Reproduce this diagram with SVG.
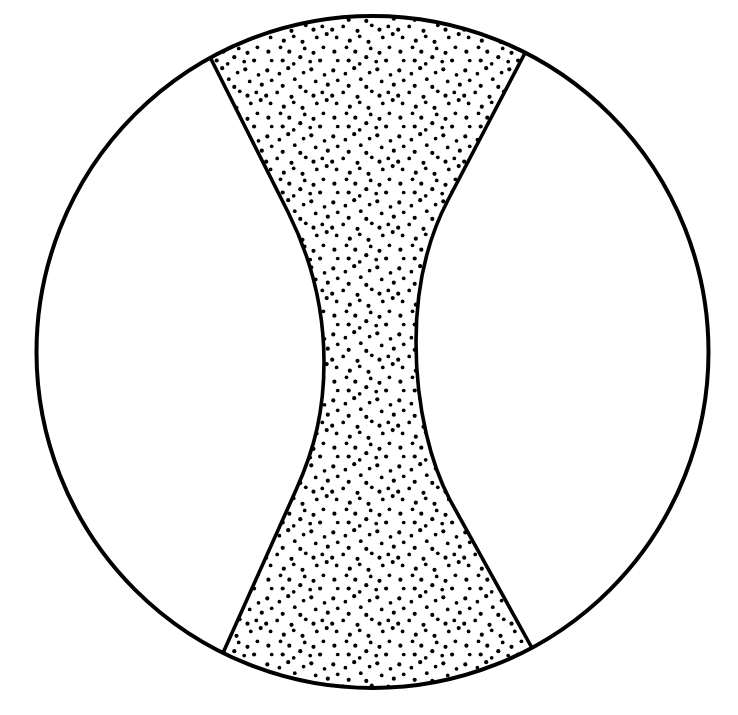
<svg xmlns="http://www.w3.org/2000/svg" width="738" height="715" viewBox="0 0 738 715">
  <defs>
    <pattern id="stipple" x="0" y="0" width="60" height="60" patternUnits="userSpaceOnUse" patternTransform="scale(1.1)">
      <g fill="#000">
        <circle cx="3" cy="4" r="1.9"/><circle cx="14" cy="7" r="1.7"/><circle cx="22" cy="2" r="1.9"/><circle cx="36" cy="6" r="1.7"/><circle cx="43" cy="3" r="1.9"/><circle cx="55" cy="8" r="1.7"/>
        <circle cx="7" cy="13" r="1.7"/><circle cx="17" cy="18" r="1.9"/><circle cx="28" cy="12" r="1.7"/><circle cx="33" cy="19" r="1.9"/><circle cx="47" cy="14" r="1.7"/><circle cx="58" cy="17" r="1.9"/>
        <circle cx="2" cy="27" r="1.9"/><circle cx="12" cy="24" r="1.7"/><circle cx="25" cy="28" r="1.9"/><circle cx="38" cy="23" r="1.7"/><circle cx="45" cy="27" r="1.9"/><circle cx="53" cy="24" r="1.7"/>
        <circle cx="6" cy="34" r="1.7"/><circle cx="18" cy="37" r="1.9"/><circle cx="27" cy="33" r="1.7"/><circle cx="35" cy="38" r="1.9"/><circle cx="48" cy="34" r="1.7"/><circle cx="57" cy="31" r="1.9"/>
        <circle cx="4" cy="47" r="1.9"/><circle cx="15" cy="43" r="1.7"/><circle cx="23" cy="47" r="1.9"/><circle cx="37" cy="44" r="1.7"/><circle cx="45" cy="48" r="1.9"/><circle cx="54" cy="43" r="1.7"/>
        <circle cx="7" cy="55" r="1.7"/><circle cx="17" cy="55" r="1.9"/><circle cx="27" cy="58" r="1.7"/><circle cx="33" cy="52" r="1.9"/><circle cx="42" cy="56" r="1.7"/><circle cx="51" cy="55" r="1.9"/>
      </g>
    </pattern>
  </defs>
  <style>
    .outline { fill: none; stroke: #000; stroke-width: 4; }
    .edge { fill: none; stroke: #000; stroke-width: 3.6; stroke-linejoin: round; }
  </style>
  <rect width="738" height="715" fill="#fff"/>
  <path id="stippled-region" fill="url(#stipple)" d="M210.5,58 L288,212 C316,268 324,318 324,362 C324,410 315,448 296,490 L223,653 A336,336 0 0 0 532,648 L450,500 C432,466 416,410 416,342 C416,292 426,242 448,200 L525,53 A336,336 0 0 0 210.5,58 Z"/>
  <g id="boundaries">
    <path class="edge" d="M210.5,58 L288,212 C316,268 324,318 324,362 C324,410 315,448 296,490 L223,653"/>
    <path class="edge" d="M525,53 L448,200 C426,242 416,292 416,342 C416,410 432,466 450,500 L532,648"/>
  </g>
  <circle id="outer-circle" class="outline" cx="372.5" cy="352" r="336"/>
</svg>
